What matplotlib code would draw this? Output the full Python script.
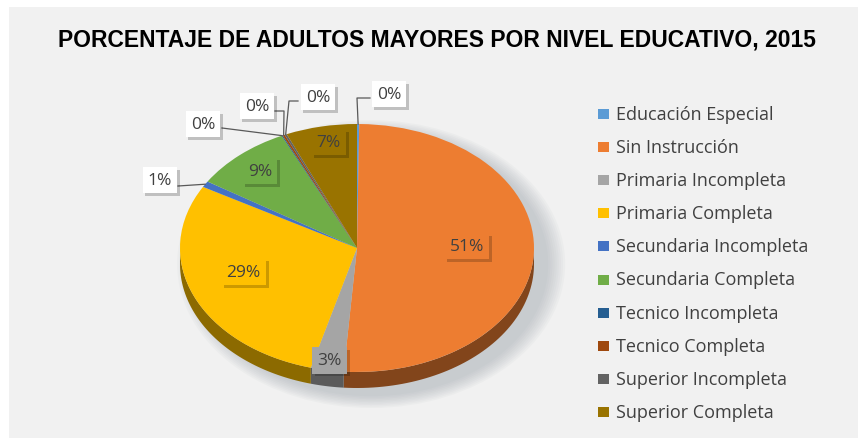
import matplotlib.pyplot as plt
import matplotlib.patheffects as pe
from matplotlib.patches import Polygon, Ellipse, Rectangle
import numpy as np

# datos del grafico
categorias = ['Educación Especial', 'Sin Instrucción', 'Primaria Incompleta',
              'Primaria Completa', 'Secundaria Incompleta', 'Secundaria Completa',
              'Tecnico Incompleta', 'Tecnico Completa', 'Superior Incompleta',
              'Superior Completa']
porcentajes = [0.2, 51.0, 3.0, 29.0, 0.8, 9.0, 0.1, 0.2, 0.2, 6.5]
etiquetas = ['0%', '51%', '3%', '29%', '1%', '9%', '0%', '0%', '0%', '7%']
colores = ['#5B9BD5', '#ED7D31', '#A5A5A5', '#FFC000', '#4472C4', '#70AD47',
           '#255E91', '#9E480E', '#636363', '#997300']

W, H = 858, 439
fig = plt.figure(figsize=(W / 100, H / 100), dpi=100)
fig.patch.set_facecolor('white')

# panel gris de fondo
fig.patches.append(Rectangle((9 / W, 0), 1, 1 - 8 / H, transform=fig.transFigure,
                             facecolor='#F1F1F1', edgecolor='none', zorder=0))

# ejes en unidades del pie: 1 unidad = rx px en x, ry px en y
cx, cy = 357, 249  # centro en pixeles (desde arriba)
rx, ry = 177, 124
ax = fig.add_axes([0, 0, 1, 1], zorder=2)
ax.patch.set_alpha(0)

wedges, _ = ax.pie(porcentajes, colors=colores, startangle=90, counterclock=False,
                   radius=1, wedgeprops=dict(linewidth=0))
for w in wedges:
    w.set_zorder(3)
ax.set_aspect('auto')
ax.set_xlim((0 - cx) / rx, (W - cx) / rx)
ax.set_ylim((cy - H) / ry, cy / ry)
ax.axis('off')

def px(x, y):
    # pixel (desde arriba) -> coordenadas de datos
    return (x - cx) / rx, (cy - y) / ry

depth = 16 / ry

# sombra difusa
for k in range(9):
    s = 1.0 + 0.012 * k
    ax.add_patch(Ellipse((0.08, -0.13), 2 * s, 2 * s + depth, facecolor='#98A0A8',
                         edgecolor='none', alpha=0.06, zorder=1))

# pared lateral (parte frontal)
def oscuro(c, f=0.55):
    c = c.lstrip('#')
    rgb = [int(c[i:i + 2], 16) / 255 for i in (0, 2, 4)]
    return [v * f for v in rgb]

for w, c in zip(wedges, colores):
    for lo, hi in [(-180, 0), (180, 360)]:
        a = max(w.theta1, lo)
        b = min(w.theta2, hi)
        if b <= a:
            continue
        t = np.radians(np.linspace(a, b, 60))
        top = np.column_stack([np.cos(t), np.sin(t)])
        bot = np.column_stack([np.cos(t[::-1]), np.sin(t[::-1]) - depth])
        ax.add_patch(Polygon(np.vstack([top, bot]), closed=True, facecolor=oscuro(c),
                             edgecolor='none', zorder=2))

# etiquetas
fuente = 'Open Sans'
sombra = [pe.withSimplePatchShadow(offset=(2, -2), shadow_rgbFace='k', alpha=0.2)]

def caja(x, y, texto, fondo):
    t = ax.text(x, y, texto, ha='center', va='center', fontsize=12.5, family=fuente,
                color='#404040', zorder=6,
                bbox=dict(boxstyle='square,pad=0.3', facecolor=fondo, edgecolor='none'))
    t.get_bbox_patch().set_path_effects(sombra)
    return t

# etiquetas dentro de las porciones (radio relativo, giro en grados)
dentro = {1: (0.62, 4), 2: (0.92, 0), 3: (0.67, -6), 5: (0.83, 0), 9: (0.87, -1)}
for i, (f, g) in dentro.items():
    w = wedges[i]
    m = np.radians((w.theta1 + w.theta2) / 2 + g)
    caja(f * np.cos(m), f * np.sin(m), etiquetas[i], colores[i])

# etiquetas fuera con lineas guia (posiciones de la caja en pixeles)
fuera = {0: (389, 95), 4: (160, 181), 6: (203, 125), 7: (257, 107), 8: (318, 98)}
codos = {0: [(357, 99)], 4: [], 6: [], 7: [(284, 112)], 8: [(289, 102)]}
inicio = {0: (370, 99), 4: (178, 187), 6: (222, 129), 7: (275, 112), 8: (298, 102)}
for i, (x, y) in fuera.items():
    w = wedges[i]
    m = np.radians((w.theta1 + w.theta2) / 2)
    borde = (np.cos(m), np.sin(m))
    pts = [px(*inicio[i])] + [px(*p) for p in codos[i]] + [borde]
    ax.plot([p[0] for p in pts], [p[1] for p in pts], color='#595959', lw=0.9, zorder=5)
    caja(*px(x, y), etiquetas[i], 'white')

# leyenda
for j, (nom, c) in enumerate(zip(categorias, colores)):
    y = 115 + j * 33.1
    fig.patches.append(Rectangle((598 / W, 1 - (y + 5) / H), 11 / W, 10 / H,
                                 transform=fig.transFigure, facecolor=c,
                                 edgecolor='none', zorder=3))
    fig.text(616 / W, 1 - y / H, nom, ha='left', va='center', fontsize=13,
             family=fuente, color='#404040')

fig.text(437 / W, 1 - 40 / H, 'PORCENTAJE DE ADULTOS MAYORES POR NIVEL EDUCATIVO, 2015',
         ha='center', va='center', fontsize=16.5, fontweight='bold',
         family='Liberation Sans', color='black')

fig.savefig('out.png', dpi=100)
